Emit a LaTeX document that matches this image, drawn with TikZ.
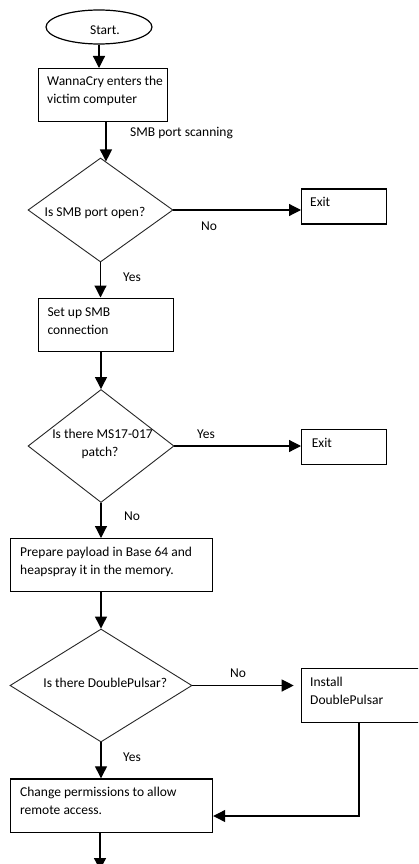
\documentclass[tikz,border=0pt]{standalone}
\usepackage{fontspec}
\setmainfont{Carlito}
\usetikzlibrary{shapes.geometric,arrows.meta,calc}

\begin{document}
\begin{tikzpicture}[x=1pt,y=-1pt,
  font=\fontsize{13.5pt}{18pt}\selectfont,
  box/.style={draw=black,line width=1.2pt,rectangle,inner sep=0pt,anchor=north west},
  decision/.style={draw=black!85,line width=0.9pt,diamond,inner sep=0pt},
  terminal/.style={draw=black,line width=1.2pt,ellipse,inner sep=0pt},
  txt/.style={anchor=base west,inner sep=0pt},
  ctxt/.style={anchor=base,inner sep=0pt},
  flow/.style={line width=1.2pt,-{Triangle[width=12pt,length=12pt]}},
]
\useasboundingbox (0,0) rectangle (418,864);
\clip (0,0) rectangle (418,864);
\fill[white] (0,0) rectangle (418,864);

% start
\node[terminal,minimum width=106pt,minimum height=34pt] (start) at (99,27) {};
\node[ctxt] (tstart) at (105,35) {Start.};

% entry
\node[box,minimum width=129pt,minimum height=53pt] (b1) at (38,68) {};
\node[txt] (t1a) at (47,86) {WannaCry enters the};
\node[txt] (t1b) at (47,104) {victim computer};
\node[txt] (scan) at (130,136.5) {SMB port scanning};

% SMB port check
\node[decision,minimum width=145pt,minimum height=104pt] (d1) at (100.5,210) {};
\node[ctxt] (td1) at (95,216) {Is SMB port open?};
\node[box,minimum width=85pt,minimum height=35pt] (e1) at (301,188.3) {};
\node[txt] (te1) at (310,206.7) {Exit};
\node[txt] (no1) at (201,230) {No};
\node[txt] (yes1) at (123,281) {Yes};

% SMB connection
\node[box,minimum width=135pt,minimum height=53.5pt] (b2) at (38,297.5) {};
\node[txt] (t2a) at (47.3,316) {Set up SMB};
\node[txt] (t2b) at (47.3,334) {connection};

% patch check
\node[decision,minimum width=146pt,minimum height=113pt] (d2) at (101,446) {};
\node[ctxt] (td2a) at (102.5,438) {Is there MS17-017};
\node[ctxt] (td2b) at (100,456) {patch?};
\node[box,minimum width=85pt,minimum height=35.5pt] (e2) at (301,428.7) {};
\node[txt] (te2) at (311.7,447) {Exit};
\node[txt] (yes2) at (197,438.5) {Yes};
\node[txt] (no2) at (124,520) {No};

% payload
\node[box,minimum width=202pt,minimum height=53pt] (b3) at (10,538) {};
\node[txt] (t3a) at (20,556) {Prepare payload in Base 64 and};
\node[txt] (t3b) at (20,574) {heapspray it in the memory.};

% DoublePulsar check
\node[decision,minimum width=182pt,minimum height=113pt] (d3) at (101,685.5) {};
\node[ctxt] (td3) at (105.3,687.5) {Is there DoublePulsar?};
\node[txt] (no3) at (230,677) {No};
\node[box,minimum width=140pt,minimum height=53.7pt] (b5) at (300.7,668) {};
\node[txt] (t5a) at (310,686) {Install};
\node[txt] (t5b) at (310,704) {DoublePulsar};
\node[txt] (yes3) at (123,761) {Yes};

% permissions
\node[box,minimum width=202pt,minimum height=53.4pt] (b4) at (10,778.3) {};
\node[txt] (t4a) at (20,796.5) {Change permissions to allow};
\node[txt] (t4b) at (20,814.5) {remote access.};

% connectors
\coordinate (p1) at ($(d1.north)!0.075!(d1.east)$);
\coordinate (r1) at (359,816);
\coordinate (end) at (100,870);

\draw[flow] (start.south) -- (start.south |- b1.north);
\draw[flow] (b1.south -| p1) -- (p1);
\draw[flow] (d1.east) -- (d1.east -| e1.west);
\draw[flow] (d1.south) -- (d1.south |- b2.north);
\draw[flow] (b2.south -| d2.north) -- (d2.north);
\draw[flow] (d2.east) -- (d2.east -| e2.west);
\draw[flow] (d2.south) -- (d2.south |- b3.north);
\draw[flow] (b3.south -| d3.north) -- (d3.north);
\draw[flow,shorten >=7pt] (d3.east) -- (d3.east -| b5.west);
\draw[flow] (d3.south) -- (d3.south |- b4.north);
\draw[flow] (b5.south -| r1) -- (r1) -- (r1 -| b4.east);
\draw[flow] (b4.south -| end) -- (end);
\end{tikzpicture}
\end{document}
